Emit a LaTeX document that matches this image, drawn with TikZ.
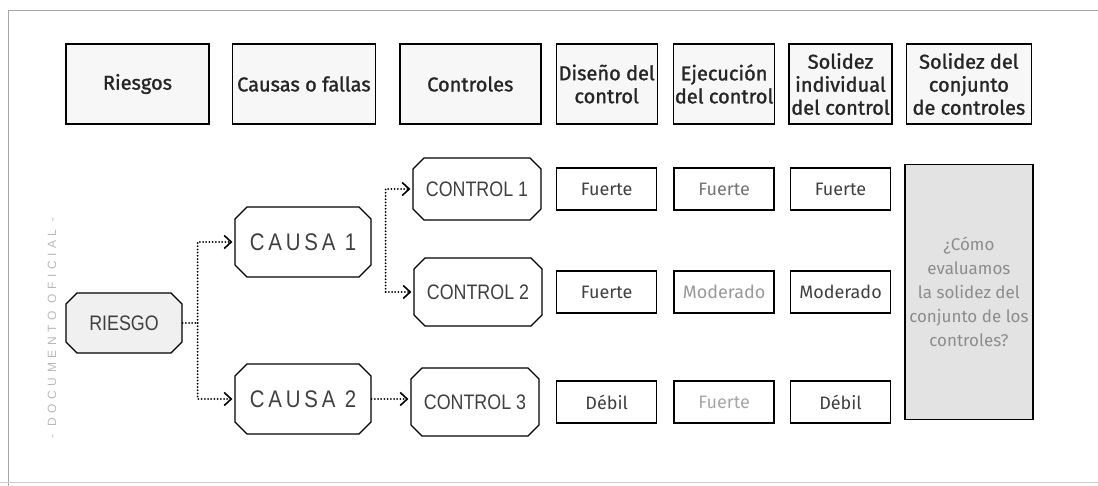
\documentclass[tikz,border=0pt]{standalone}
\usepackage{fontspec}
\setmainfont{Fira Sans}
\newfontfamily\headfont[FakeBold=1.3]{Fira Sans}
\newfontfamily\octfont[FakeStretch=0.85]{Liberation Sans}
\newfontfamily\octwidefont[FakeStretch=0.85, LetterSpace=16]{Liberation Sans}
\newfontfamily\sidefont[LetterSpace=38]{Liberation Sans}
\usetikzlibrary{arrows.meta, positioning, shapes.misc}

\begin{document}
\begin{tikzpicture}[
    x=1pt, y=-1pt,
    head/.style={rectangle, draw, line width=1.4pt, fill=gray!6, text=black!85,
      minimum height=80pt, align=center, inner sep=1pt,
      font=\headfont\fontsize{20}{23}\selectfont},
    octa/.style={chamfered rectangle, chamfered rectangle xsep=13pt,
      draw, line width=1.2pt, text=black!75, inner sep=0pt},
    rate/.style={rectangle, draw, line width=1.3pt, minimum width=100pt,
      minimum height=42pt, font=\fontsize{18}{20}\selectfont},
    big/.style={rectangle, draw, line width=1.3pt, fill=gray!22, text=black!45,
      minimum width=128pt, minimum height=255pt, align=center, inner sep=0pt,
      font=\fontsize{17}{24}\selectfont},
    link/.style={dash pattern=on 0pt off 3.2pt, line cap=round, line width=2pt},
    arrow/.style={link, shorten >=2pt,
      -{Straight Barb[length=7pt, width=13pt, line width=1.6pt]}},
    pageline/.style={draw=gray!70, line width=0.8pt}
]
\useasboundingbox (0,0) rectangle (1098,486);

% page frame of the scan
\draw[pageline] (8,486) -- (8,10) -- (1098,10);
\draw[pageline, draw=gray!40] (0,482) -- (1098,482);
\node[rotate=90, text=gray!55, font=\sidefont\fontsize{12}{12}\selectfont]
  (doc) at (52,328) {- DOCUMENTO OFICIAL -};

% column heads
\node[head, minimum width=143pt] (riesgos) at (137.5,84) {Riesgos};
\node[head, minimum width=143pt, right=22pt of riesgos] (causas) {Causas o fallas};
\node[head, minimum width=141pt, right=23pt of causas]  (controles) {Controles};
\node[head, minimum width=101pt, right=14pt of controles] (dis) {Diseño del\\control};
\node[head, minimum width=101pt, right=15pt of dis]  (eje) {Ejecución\\del control};
\node[head, minimum width=103pt, right=13pt of eje]  (sol) {Solidez\\individual\\del control};
\node[head, minimum width=125pt, right=13pt of sol]  (conj) {Solidez del\\conjunto\\de controles};

% risk, causes, controls
\node[octa, fill=gray!12, minimum width=116pt, minimum height=60pt,
  font=\octfont\fontsize{21}{21}\selectfont] (riesgo) at (124,323) {RIESGO};
\node[octa, minimum width=136pt, minimum height=70pt,
  font=\octwidefont\fontsize{24}{24}\selectfont] (causa1) at (303,242) {CAUSA 1};
\node[octa, minimum width=136pt, minimum height=70pt,
  font=\octwidefont\fontsize{24}{24}\selectfont] (causa2) at (303,399) {CAUSA 2};
\node[octa, minimum width=128pt, minimum height=62pt,
  font=\octfont\fontsize{21}{21}\selectfont] (ctrl1) at (477,189) {CONTROL 1};
\node[octa, minimum width=128pt, minimum height=68pt,
  font=\octfont\fontsize{21}{21}\selectfont] (ctrl2) at (478,292) {CONTROL 2};
\node[octa, minimum width=128pt, minimum height=68pt,
  font=\octfont\fontsize{21}{21}\selectfont] (ctrl3) at (475,402) {CONTROL 3};

% ratings
\node[rate, text=black!75] (d1) at (dis |- ctrl1) {Fuerte};
\node[rate, text=black!75] (d2) at (dis |- ctrl2) {Fuerte};
\node[rate, text=black!75] (d3) at (dis |- ctrl3) {Débil};
\node[rate, text=black!55] (e1) at (eje |- ctrl1) {Fuerte};
\node[rate, text=black!40] (e2) at (eje |- ctrl2) {Moderado};
\node[rate, text=black!35] (e3) at (eje |- ctrl3) {Fuerte};
\node[rate, text=black!75] (s1) at (sol |- ctrl1) {Fuerte};
\node[rate, text=black!75] (s2) at (sol |- ctrl2) {Moderado};
\node[rate, text=black!75] (s3) at (sol |- ctrl3) {Débil};
\node[big] (q) at (conj |- ctrl2) {¿Cómo\\evaluamos\\la solidez del\\conjunto de los\\controles?};

% dotted links
\coordinate (t1) at ([xshift=15pt]riesgo.east);
\coordinate (t2) at ([xshift=14pt]causa1.east);
\draw[link]  (riesgo.east) -- (t1);
\draw[arrow] (t1) |- (causa1.west);
\draw[arrow] (t1) |- (causa2.west);
\draw[arrow] (t2 |- ctrl2.west) |- (ctrl1.west);
\draw[arrow] (t2 |- ctrl2.west) -- (ctrl2.west);
\draw[arrow] (causa2.east) -- (causa2.east -| ctrl3.west);
\end{tikzpicture}
\end{document}
